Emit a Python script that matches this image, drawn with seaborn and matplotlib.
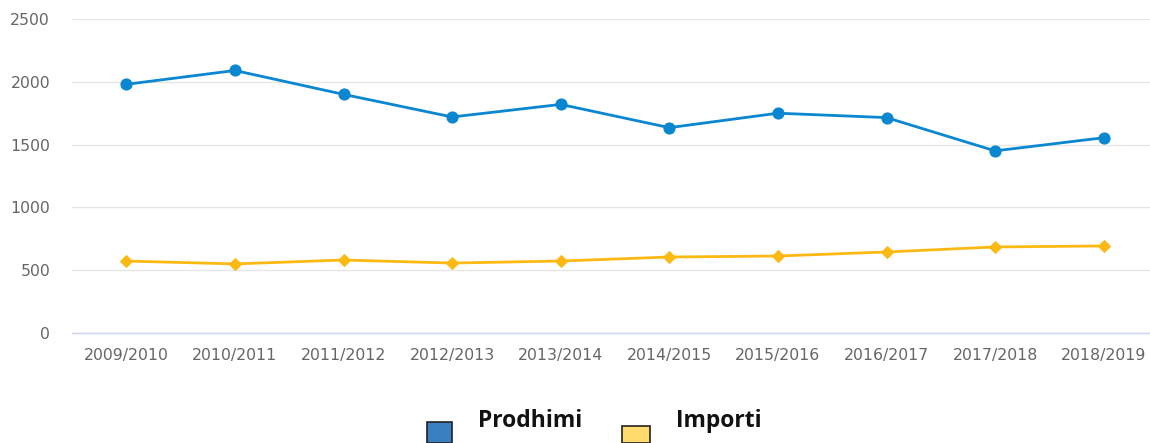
import matplotlib
matplotlib.use("Agg")
import matplotlib.pyplot as plt
import seaborn as sns
import pandas as pd
from matplotlib.patches import Rectangle

seasons = ["2009/2010", "2010/2011", "2011/2012", "2012/2013", "2013/2014",
           "2014/2015", "2015/2016", "2016/2017", "2017/2018", "2018/2019"]
prodhimi = [1980, 2090, 1900, 1720, 1820, 1635, 1750, 1715, 1450, 1555]
importi = [573, 550, 581, 557, 573, 605, 613, 645, 685, 693]
legend_labels = ["Prodhimi", "Importi"]
yticks = [0, 500, 1000, 1500, 2000, 2500]

blue = "#0a87d0"
yellow = "#fdb913"

sns.set_style("white")
plt.rcParams["font.family"] = ["DejaVu Sans"]

W, H = 1150, 443
fig = plt.figure(figsize=(11.5, 4.43), dpi=100)
ax = fig.add_axes([72/W, (H-333)/H, (1158-72)/W, (333-19)/H])

df = pd.DataFrame({"season": seasons, "Prodhimi": prodhimi, "Importi": importi})
x = list(range(len(seasons)))
sns.lineplot(x=x, y=df["Prodhimi"], ax=ax, color=blue, lw=2, marker="o",
             markersize=8, markeredgecolor=blue, legend=False)
sns.lineplot(x=x, y=df["Importi"], ax=ax, color=yellow, lw=2, marker="D",
             markersize=6, markeredgecolor=yellow, legend=False)

ax.set_xlim(-0.5, len(seasons) - 0.5)
ax.set_ylim(0, 2500)
ax.set_xticks(x)
ax.set_xticklabels(seasons)
ax.set_yticks(yticks)
ax.set_yticklabels([str(v) for v in yticks])
ax.set_xlabel("")
ax.set_ylabel("")
ax.grid(axis="y", color="#e6e6e6", lw=1)
ax.set_axisbelow(True)
for s in ["top", "right", "left"]:
    ax.spines[s].set_visible(False)
ax.spines["bottom"].set_color("#ccd6eb")
ax.spines["bottom"].set_linewidth(1)
ax.tick_params(axis="both", length=0, colors="#666666", labelsize=11.3)
ax.tick_params(axis="y", pad=15.8)
ax.tick_params(axis="x", pad=11)
for lbl in ax.get_yticklabels() + ax.get_xticklabels():
    lbl.set_color("#666666")

# legend
leg_font = ["Open Sans", "DejaVu Sans"]
fig.add_artist(Rectangle((427/W, 0), 25/W, 21/H, transform=fig.transFigure,
                         facecolor="#3a7fc0", edgecolor="#222222", lw=1.2, clip_on=False))
fig.text(478/W, 1 - 427/H, legend_labels[0], fontsize=16.5, fontweight="bold",
         family=leg_font, color="#111111", va="baseline", ha="left")
fig.add_artist(Rectangle((622/W, 0), 28/W, 17/H, transform=fig.transFigure,
                         facecolor="#ffdb6e", edgecolor="#222222", lw=1.2, clip_on=False))
fig.text(676/W, 1 - 427/H, legend_labels[1], fontsize=16.5, fontweight="bold",
         family=leg_font, color="#111111", va="baseline", ha="left")

fig.savefig("out.png", dpi=100, facecolor="white")
